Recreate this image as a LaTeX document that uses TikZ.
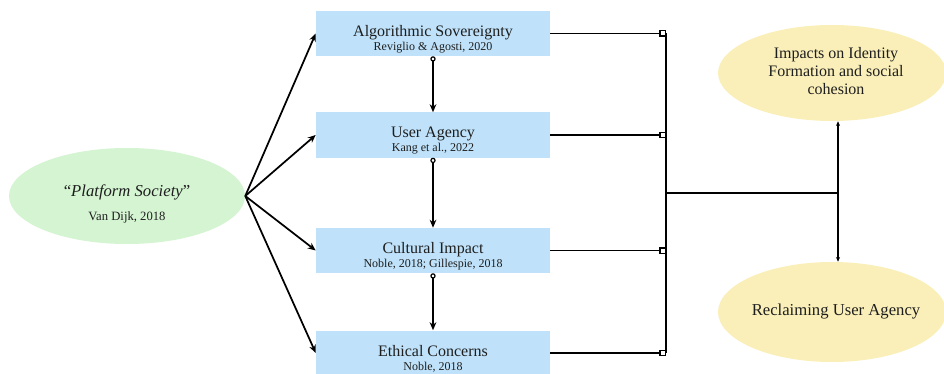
\documentclass[tikz,border=0pt]{standalone}
\usepackage{fontspec}
\setmainfont{Liberation Serif}
\usetikzlibrary{arrows.meta}
\usetikzlibrary{shapes.geometric}

\definecolor{boxblue}{RGB}{191,226,250}
\definecolor{ovalgreen}{RGB}{212,244,210}
\definecolor{ovalyellow}{RGB}{250,239,184}
\definecolor{txtgray}{RGB}{30,30,30}

\tikzset{
  themebox/.style={fill=boxblue, minimum width=175.5pt, minimum height=33.75pt, inner sep=0pt},
  boxtext/.style={inner sep=0pt, align=center, text=txtgray},
  oval/.style={ellipse, inner sep=0pt},
  fanline/.style={line width=1.3pt, -{Stealth[length=6pt,width=5pt]}},
  linkline/.style={line width=1.3pt, {Circle[open,length=4pt,width=4pt,line width=0.9pt]}-{Stealth[length=6pt,width=5pt]}},
  busline/.style={line width=1.3pt, -{Square[open,length=5pt,width=5pt,line width=1pt]}},
  outline/.style={line width=1pt, {Stealth[length=3.5pt,width=3pt]}-{Stealth[length=3.5pt,width=3pt]}}
}
\newcommand{\ttl}{\fontsize{12}{13.5}\selectfont}
\newcommand{\src}{\fontsize{9}{11}\selectfont}

\begin{document}
\begin{tikzpicture}[x=0.75pt,y=0.75pt,yscale=-1,xscale=1]
\useasboundingbox (0,0) rectangle (944,374);

\node [oval, fill=ovalgreen, minimum width=177pt, minimum height=72pt] (platform) at (127,196) {};
\node [boxtext] (platformtxt) at (127,204) {\fontsize{12.5}{14}\selectfont``\textit{Platform Society}''\\[6pt]\fontsize{9.5}{11}\selectfont Van Dijk, 2018};

\node [themebox] (sov) at (433,33.5) {};
\node [themebox] (agency) at (433,135) {};
\node [themebox] (culture) at (433,250.5) {};
\node [themebox] (ethics) at (433,353) {};

\node [boxtext] (sovtxt) at (433,39) {\ttl Algorithmic Sovereignty\\[-1.5pt]\src Reviglio \& Agosti, 2020};
\node [boxtext] (agencytxt) at (433,140.5) {\ttl User Agency\\[-1.5pt]\src Kang et al., 2022};
\node [boxtext] (culturetxt) at (433,256) {\ttl Cultural Impact\\[-1.5pt]\src Noble, 2018; Gillespie, 2018};
\node [boxtext] (ethicstxt) at (433,358.5) {\ttl Ethical Concerns\\[-1.5pt]\src Noble, 2018};

\node [oval, fill=ovalyellow, minimum width=171pt, minimum height=72pt] (identity) at (832,73) {};
\node [oval, fill=ovalyellow, minimum width=171pt, minimum height=75pt] (reclaim) at (832,312) {};
\node [boxtext, font=\fontsize{12}{13.5}\selectfont] (identitytxt) at (836,71) {Impacts on Identity\\Formation and social\\cohesion};
\node [boxtext, font=\fontsize{12.5}{14}\selectfont] (reclaimtxt) at (836,312) {Reclaiming User Agency};

\coordinate (bsov) at (666,33.5);
\coordinate (bagency) at (666,135);
\coordinate (bculture) at (666,250.5);
\coordinate (bethics) at (666,353);
\coordinate (bmid) at (666,193);
\coordinate (join) at (838,193);

\draw [fanline] (platform.east) -- (sov.west);
\draw [fanline] (platform.east) -- (agency.west);
\draw [fanline] (platform.east) -- (culture.west);
\draw [fanline] (platform.east) -- (ethics.west);

\draw [linkline] (sov.south) -- (agency.north);
\draw [linkline] (agency.south) -- (culture.north);
\draw [linkline] (culture.south) -- (ethics.north);

\draw [busline] (sov.east) -- (bsov);
\draw [busline] (agency.east) -- (bagency);
\draw [busline] (culture.east) -- (bculture);
\draw [busline] (ethics.east) -- (bethics);
\draw [line width=1.3pt] (bsov) -- (bethics);

\draw [line width=0.9pt] (bmid) -- (join);
\draw [outline] (identity.south -| join) -- (reclaim.north -| join);

\end{tikzpicture}
\end{document}
